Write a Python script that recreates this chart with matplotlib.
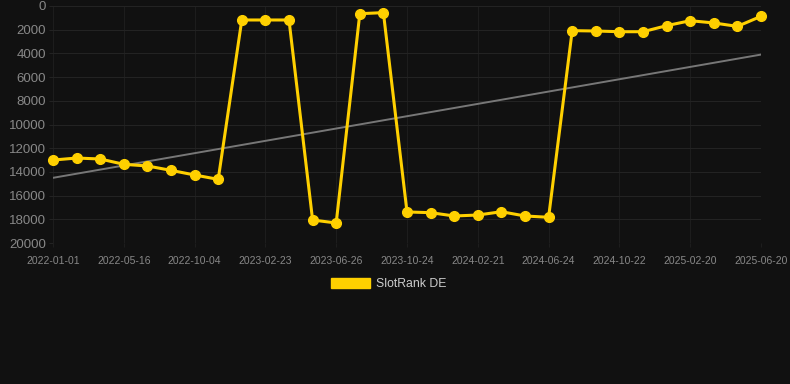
import matplotlib
matplotlib.use('Agg')
import matplotlib.pyplot as plt
import numpy as np

plt.rcParams['font.family'] = ['Liberation Sans', 'DejaVu Sans']

# Ranks (31 points, categorical x axis)
ranks = [13000, 12830, 12910, 13360, 13500, 13870, 14260, 14630,
         1180, 1180, 1180, 18060, 18310, 650, 560,
         17380, 17440, 17720, 17640, 17360, 17720, 17830,
         2080, 2110, 2170, 2170, 1660, 1240, 1430, 1720, 870]
tick_labels = ['2022-01-01', '2022-05-16', '2022-10-04', '2023-02-23', '2023-06-26',
               '2023-10-24', '2024-02-21', '2024-06-24', '2024-10-22', '2025-02-20',
               '2025-06-20']
trend_start, trend_end = 14500, 4100
series_name = 'SlotRank DE'

bg = '#111111'
gold = '#ffd000'
x = np.arange(len(ranks))

fig = plt.figure(figsize=(7.9, 3.84), dpi=100, facecolor=bg)
ax = fig.add_axes([53/790, 1-243/384, (761-53)/790, (243-6)/384])
ax.set_facecolor(bg)

ax.plot([x[0], x[-1]], [trend_start, trend_end], color='#777777', lw=1.4, zorder=2)
ax.plot(x, ranks, color=gold, lw=2.2, marker='o', markersize=7, zorder=3, clip_on=False)

ax.set_xlim(0, len(ranks) - 1)
ax.set_ylim(20000, 0)
ax.set_yticks(np.arange(0, 20001, 2000))
ax.set_xticks(x[::3])
ax.set_xticklabels(tick_labels)

ax.grid(True, axis='y', color='#232323', lw=0.8)
ax.grid(True, axis='x', color='#1d1d1d', lw=0.8)
for s in ax.spines.values():
    s.set_visible(False)
ax.tick_params(axis='y', colors='#232323', labelsize=9.5, length=3, width=0.8, pad=2)
ax.tick_params(axis='x', colors='#1d1d1d', labelsize=7.5, length=3, width=0.8, pad=6)
for lbl in ax.get_yticklabels() + ax.get_xticklabels():
    lbl.set_color('#888888')

# legend
handle = plt.Rectangle((0, 0), 1, 1, fc=gold, ec=gold)
leg = fig.legend([handle], [series_name], loc='center', bbox_to_anchor=(0.4925, 1-284/384),
                 frameon=False, handlelength=3.2, handleheight=0.9, fontsize=8.8,
                 labelcolor='#cccccc', handletextpad=0.5)

fig.savefig('out.png', dpi=100, facecolor=bg)
